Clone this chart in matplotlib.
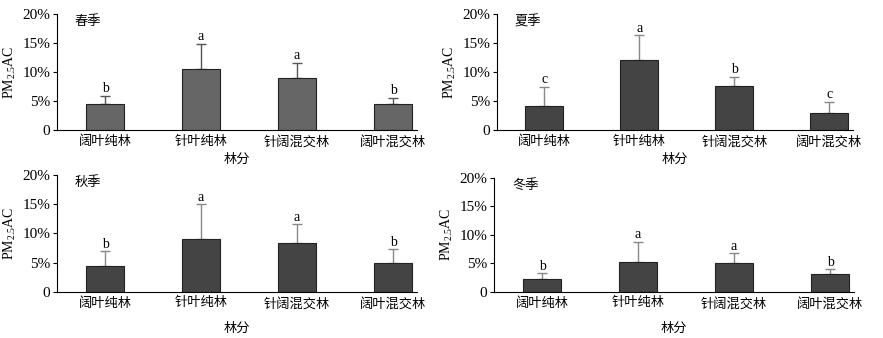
import numpy as np
import matplotlib
matplotlib.use('Agg')
import matplotlib.pyplot as plt

plt.rcParams['font.family'] = ['Liberation Serif', 'Noto Sans CJK SC']
plt.rcParams['mathtext.fontset'] = 'custom'
plt.rcParams['mathtext.rm'] = 'Liberation Serif'
plt.rcParams['mathtext.it'] = 'Liberation Serif'

# data, values in %
stands = ['阔叶纯林', '针叶纯林', '针阔混交林', '阔叶混交林']
seasons = ['春季', '夏季', '秋季', '冬季']
spring = [4.5, 10.5, 8.9, 4.4]
spring_err = [1.4, 4.4, 2.7, 1.2]
summer = [4.1, 12.0, 7.6, 2.9]
summer_err = [3.4, 4.3, 1.6, 2.0]
autumn = [4.4, 9.1, 8.3, 5.0]
autumn_err = [2.5, 5.9, 3.25, 2.3]
winter = [2.3, 5.15, 4.97, 3.15]
winter_err = [0.9, 3.65, 1.85, 0.75]
letters = [['b', 'a', 'a', 'b'],
           ['c', 'a', 'b', 'c'],
           ['b', 'a', 'a', 'b'],
           ['b', 'a', 'a', 'b']]

means = [spring, summer, autumn, winter]
errs = [spring_err, summer_err, autumn_err, winter_err]
colors = ['#666666', '#444444', '#444444', '#444444']
ecolors = ['#555555', '#888888', '#888888', '#888888']

W, H = 883, 338
fig = plt.figure(figsize=(W/100, H/100), dpi=100)

# axes boxes in pixels: left, top, right, bottom
boxes = [(57, 14, 417, 130),
         (497, 14, 853, 130),
         (57, 175, 417, 291.7),
         (494, 177.7, 854, 291.7)]
xpads = [4, 4, 9, 9]

x = np.arange(len(stands))
for i in range(4):
    l, t, r, b = boxes[i]
    ax = fig.add_axes([l/W, 1-b/H, (r-l)/W, (b-t)/H])
    ax.bar(x, means[i], width=0.4, color=colors[i], edgecolor='#222222', linewidth=0.8, zorder=2)
    ax.errorbar(x, means[i], yerr=[np.zeros(4), errs[i]], fmt='none',
                ecolor=ecolors[i], elinewidth=1, capsize=3.5, capthick=1, zorder=1)
    for j in range(4):
        ax.text(x[j], means[i][j] + errs[i][j] + 0.05, letters[i][j],
                ha='center', va='bottom', fontsize=10)
    ax.set_xlim(-0.5, 3.25)
    ax.set_ylim(0, 20)
    ax.set_yticks([0, 5, 10, 15, 20])
    ax.set_yticklabels(['0', '5%', '10%', '15%', '20%'], fontsize=11)
    ax.set_xticks(x)
    ax.set_xticklabels(stands, fontsize=9.5)
    ax.tick_params(axis='x', length=0, pad=4)
    ax.tick_params(axis='y', length=3, width=0.8, pad=2)
    ax.spines['top'].set_visible(False)
    ax.spines['right'].set_visible(False)
    ax.spines['left'].set_linewidth(0.8)
    ax.spines['bottom'].set_linewidth(0.8)
    ax.set_ylabel('PM$_{2.5}$AC', fontsize=10, labelpad=3)
    ax.set_xlabel('林分', fontsize=9.5, labelpad=xpads[i])
    ax.text(0.05, 0.99, seasons[i], transform=ax.transAxes, ha='left', va='top', fontsize=9.5)

plt.savefig('out.png', dpi=100)
